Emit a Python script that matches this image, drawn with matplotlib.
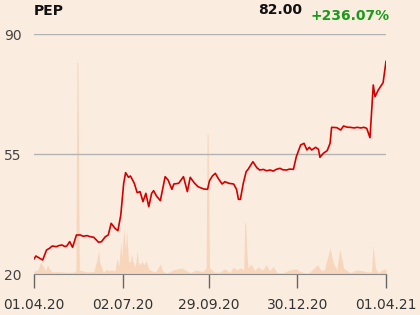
import matplotlib
matplotlib.use("Agg")
import matplotlib.pyplot as plt
import pandas as pd

ticker = "PEP"
last_price = "82.00"
change = "+236.07%"

start = pd.Timestamp("2020-04-01")

# price: (days since 01.04.20, close)
price_days = [0, 2, 6, 9, 13, 16, 19, 23, 26, 29, 32, 34, 37, 40, 44, 48, 51, 55,
              58, 62, 67, 70, 74, 77, 80, 84, 87, 90, 93, 95, 98, 100, 104, 107,
              110, 113, 116, 119, 122, 124, 127, 131, 136, 139, 143, 145, 150, 155,
              159, 162, 166, 170, 176, 180, 182, 185, 188, 191, 195, 198, 202, 207,
              210, 212, 214, 217, 220, 222, 227, 231, 234, 238, 241, 245, 248, 251,
              255, 258, 262, 265, 269, 272, 276.5, 280, 283, 285.5, 288, 292, 295,
              296.5, 300, 304, 307, 308.6, 314, 318, 321, 325, 328, 332, 335, 339,
              342, 345, 348.4, 351.8, 353.6, 357, 362, 365]
price = [24.40, 25.25, 24.57, 24.08, 27.0, 27.49, 28.17, 27.97, 28.3, 28.46, 28.0,
         28.17, 29.43, 27.78, 31.38, 31.38, 31.0, 31.2, 30.9, 30.7, 29.24, 29.43,
         30.89, 31.38, 34.78, 33.32, 32.64, 37.21, 46.45, 49.56, 48.2, 48.59, 46.45,
         43.72, 44.02, 41.1, 43.53, 39.64, 43.53, 44.31, 42.75, 41.39, 48.39, 47.42,
         44.7, 46.25, 46.45, 48.39, 44.02, 48.2, 46.64, 45.47, 44.79, 44.7, 47.22,
         48.59, 49.36, 47.9, 46.25, 46.93, 46.45, 46.25, 44.7, 41.78, 41.78, 46.45,
         49.85, 50.53, 52.76, 51.01, 50.33, 50.5, 50.1, 50.33, 50.0, 50.5, 50.82,
         50.4, 50.33, 50.6, 50.53, 54.22, 57.63, 58.11, 56.17, 56.95, 56.17, 56.95,
         56.36, 54.03, 55.2, 55.97, 58.11, 62.78, 62.68, 62.0, 63.17, 62.8, 62.78,
         62.6, 62.78, 62.6, 62.78, 62.49, 59.76, 75.13, 71.72, 73.67, 75.81, 82.0]

# volume: (days since 01.04.20, millions of shares)
vol_days = [0, 4, 7, 9, 12, 14, 16, 19, 24, 30, 36, 42, 43.5, 44.5, 45.5, 47, 55, 62,
            65, 67, 68, 70, 72, 75, 78, 81, 84, 86, 88, 90, 91, 93, 95, 96, 98,
            100, 101, 103, 105, 107, 108, 110, 112, 114, 116, 119, 122, 126,
            131, 133, 135, 138, 144, 153, 157, 162, 168, 175, 178.5, 179.5, 180.5,
            182, 187, 192, 198, 203, 207, 210, 214, 217.5, 218.5, 219.5, 221, 222,
            225, 229, 232, 237, 241, 244, 248, 252, 258, 265, 272, 275, 280, 285,
            294, 297, 301, 307, 310, 314, 317, 321, 328, 334, 341, 346, 350, 351.5,
            354, 357, 361, 365]
volume = [0.7, 1.0, 3.0, 2.0, 0.8, 2.3, 1.2, 0.5, 0.6, 0.5, 0.4, 0.5, 1.0, 53.0,
          53.0, 1.0, 0.5, 0.6, 3.3, 5.8, 3.0, 1.7, 0.4, 1.2, 0.8, 1.0, 0.8, 3.8,
          2.0, 8.3, 4.0, 11.5, 6.0, 11.2, 3.2, 3.0, 5.0, 2.8, 1.8, 5.8, 3.0, 2.3,
          3.2, 2.3, 3.3, 1.2, 0.8, 0.5, 2.5, 1.0, 0.5, 0.3, 1.0, 1.5, 1.0, 0.3,
          1.0, 0.6, 1.5, 35.0, 35.0, 1.5, 0.5, 0.4, 1.3, 0.4, 1.7, 1.0, 1.5, 1.0,
          13.0, 12.5, 4.2, 1.5, 2.5, 0.8, 1.8, 1.0, 2.3, 0.8, 1.8, 0.4, 0.3, 1.0,
          1.3, 0.8, 0.3, 0.3, 2.3, 1.0, 1.0, 6.5, 3.0, 1.0, 6.3, 1.5, 0.3, 1.0,
          0.8, 0.5, 0.5, 7.2, 1.5, 0.3, 1.0, 1.3]

yticks = [20, 55, 90]
xtick_days = [0, 92, 181, 273, 365]
xtick_labels = ["01.04.20", "02.07.20", "29.09.20", "30.12.20", "01.04.21"]

bg = "#fbece0"
pd_dates = start + pd.to_timedelta(price_days, unit="D")
vd_dates = start + pd.to_timedelta(vol_days, unit="D")
xt = start + pd.to_timedelta(xtick_days, unit="D")

fig = plt.figure(figsize=(4.2, 3.15), dpi=100)
fig.patch.set_facecolor(bg)

ax = fig.add_axes([34 / 420, 1 - 274 / 315, 352 / 420, 240 / 315])
ax.set_facecolor(bg)

vax = ax.twinx()
vax.fill_between(vd_dates, volume, 0, color="#f8d6bb", linewidth=0, zorder=1)
vax.set_ylim(0, 60)
vax.axis("off")

ax.set_zorder(vax.get_zorder() + 1)
ax.patch.set_visible(False)
for y in [55, 90]:
    ax.axhline(y, color="#b3b3b3", linewidth=1, zorder=1)
ax.plot(pd_dates, price, color="#d40000", linewidth=1.2, zorder=3)

ax.set_ylim(20, 90)
ax.set_xlim(start, start + pd.Timedelta(days=365))
ax.set_yticks(yticks)
ax.set_yticklabels([str(v) for v in yticks])
ax.set_xticks(xt)
ax.set_xticklabels(xtick_labels)
ax.tick_params(axis="y", length=0, pad=9, labelsize=10, labelcolor="#444444")
ax.tick_params(axis="x", length=10, width=1, color="#666666", pad=7,
               labelsize=10, labelcolor="#333333")
for s in ["top", "right", "left"]:
    ax.spines[s].set_visible(False)
ax.spines["bottom"].set_color("#888888")

fig.text(34 / 420, 1 - 11 / 315, ticker, fontsize=10, fontweight="bold",
         va="center", ha="left", color="#111111")
fig.text(302 / 420, 1 - 10 / 315, last_price, fontsize=10, fontweight="bold",
         va="center", ha="right", color="#111111")
fig.text(390 / 420, 1 - 16 / 315, change, fontsize=10, fontweight="bold",
         va="center", ha="right", color="#1a9a1a")

fig.savefig("out.png", dpi=100, facecolor=bg)
